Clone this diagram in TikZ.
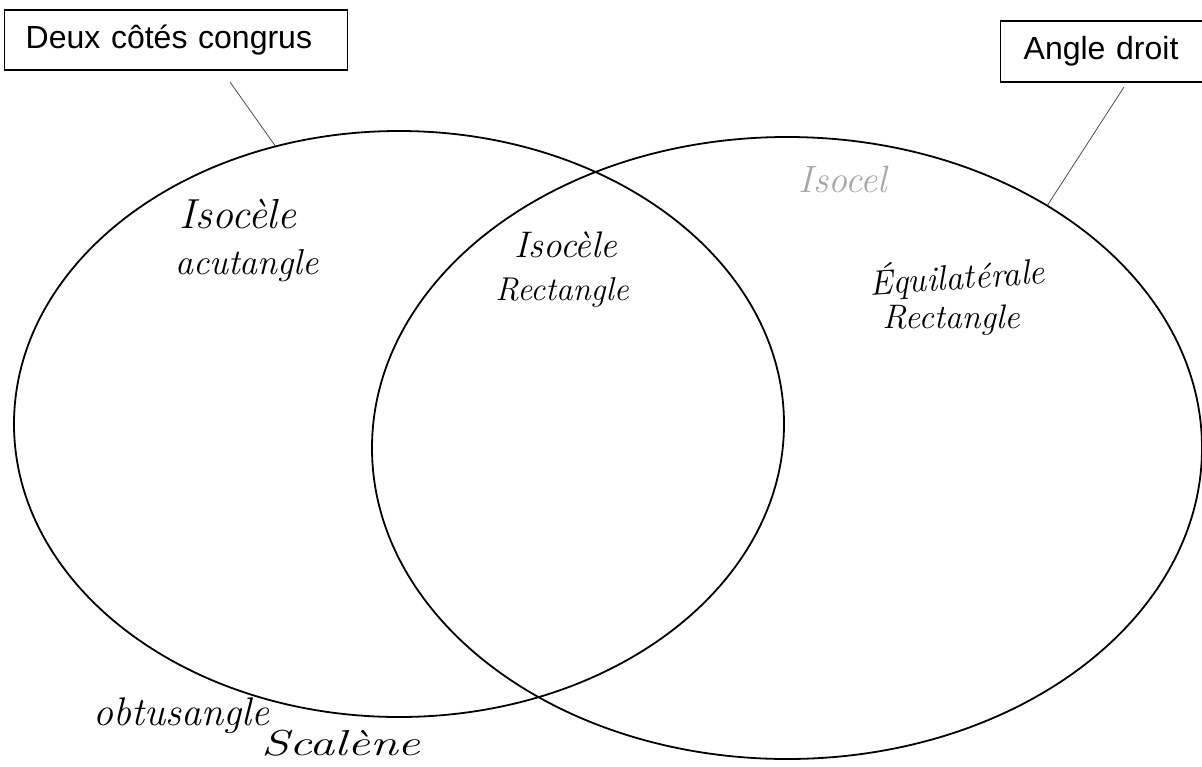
\documentclass[tikz,border=0pt]{standalone}
\usepackage{fontspec}
\newfontfamily\boxfont{Liberation Sans}
\usetikzlibrary{shapes.geometric}
\tikzset{
  labelbox/.style={draw, line width=1.4pt, anchor=west, align=left, inner ysep=0pt,
    font=\boxfont\fontsize{32}{36}\selectfont},
  setring/.style={ellipse, draw, line width=1.8pt, inner sep=0pt},
  pointer/.style={draw=black!70, line width=0.8pt},
  hand/.style={font=\itshape, inner sep=0pt},
  faint/.style={text=black!35}
}
\begin{document}
\begin{tikzpicture}[x=1pt,y=-1pt]
\useasboundingbox (0,0) rectangle (1202,766);
\clip (0,0) rectangle (1202,766);
% boxes
\node[labelbox, text width=301pt, inner xsep=21pt, minimum height=60pt] (bc) at (4,40) {Deux côtés congrus};
\node[labelbox, text width=170pt, inner xsep=23pt, minimum height=61pt] (ba) at (1000,51.5) {Angle droit};
% sets
\node[setring, minimum width=770pt, minimum height=586pt] (L) at (399,424) {};
\node[setring, minimum width=830pt, minimum height=622pt] (R) at (787,448) {};
% pointers
\coordinate (c1) at (230,82);
\coordinate (c2) at (1124,87);
\draw[pointer] (c1) -- (L.114);
\draw[pointer] (c2) -- (R.43.7);
% handwritten labels
\node[hand, font=\itshape\fontsize{42}{46}\selectfont] (t1) at (238,214) {Isocèle};
\node[hand, font=\itshape\fontsize{36}{40}\selectfont] (t2) at (247,266) {acutangle};
\node[hand, font=\itshape\fontsize{37}{42}\selectfont] (t3) at (566,245) {Isocèle};
\node[hand, font=\itshape\fontsize{33}{38}\selectfont] (t4) at (562,292) {Rectangle};
\node[hand, faint, font=\itshape\fontsize{38}{42}\selectfont] (t5) at (843,180) {Isocel};
\node[hand, font=\itshape\fontsize{35}{40}\selectfont, rotate=4] (t6) at (957,277) {Équilatérale};
\node[hand, font=\itshape\fontsize{34}{38}\selectfont] (t7) at (951,320) {Rectangle};
\node[hand, font=\itshape\fontsize{40}{44}\selectfont] (t8) at (181,716) {obtusangle};
\node[hand, font=\itshape\fontsize{36}{40}\selectfont, xscale=1.4] (t9) at (341,743) {Scalène};
\end{tikzpicture}
\end{document}
